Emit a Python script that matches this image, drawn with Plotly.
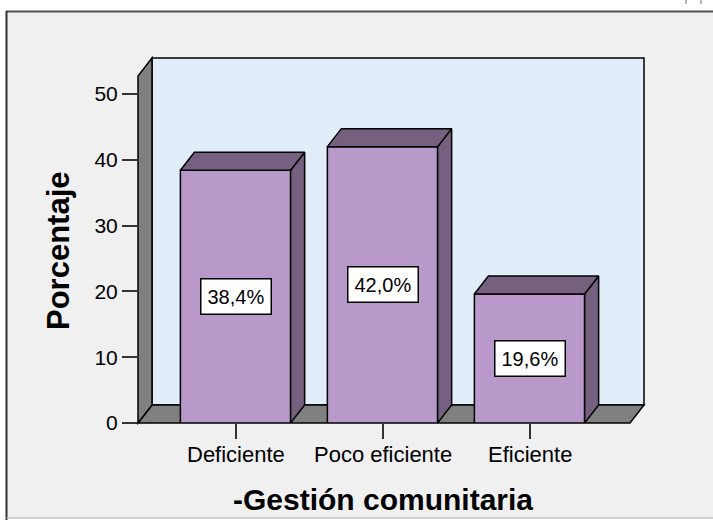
import plotly.graph_objects as go

# ---------------- data ----------------
categories = ["Deficiente", "Poco eficiente", "Eficiente"]
percentages = [38.4, 42.0, 19.6]
label_texts = ["38,4%", "42,0%", "19,6%"]
y_tick_values = [0, 10, 20, 30, 40, 50]
x_title = "-Gestión comunitaria"
y_title = "Porcentaje"

# ---------------- styling / geometry ----------------
W, Hpx = 713, 520
L, R, T, B = 138, 644, 58, 423          # plot area in pixels
PX_PER_CAT, CAT0_PX, PX_PER_UNIT = 147.0, 235.5, 6.58
DEPTH_X_PX, DEPTH_Y_PX = 14.0, 18.0
BAR_W = 0.75

FRONT = "#b899c9"
DARK = "#75607f"
WALL = "#808080"
PANEL = "#e1edf9"
BG = "#f0f0f0"
FONT = "Liberation Sans, Arial, sans-serif"

x_range = [(L - CAT0_PX) / PX_PER_CAT, (R - CAT0_PX) / PX_PER_CAT]
y_range = [0, (B - T) / PX_PER_UNIT]
DX = DEPTH_X_PX / PX_PER_CAT
DY = DEPTH_Y_PX / PX_PER_UNIT
WALL_H = y_range[1] - DY


def dx2p(x):
    return (x - x_range[0]) / (x_range[1] - x_range[0])


def dy2p(y):
    return (y - y_range[0]) / (y_range[1] - y_range[0])


def pxx(p):
    return (p - L) / (R - L)


def pxy(p):
    return (B - p) / (B - T)


def paper_path(pts):
    s = "M " + " L ".join(f"{dx2p(x):.5f},{dy2p(y):.5f}" for x, y in pts) + " Z"
    return s


x0, x1 = x_range
shapes = []
# outer frame
shapes.append(dict(type="rect", xref="paper", yref="paper", layer="below",
                   x0=pxx(6), x1=pxx(730), y0=pxy(518), y1=pxy(11),
                   fillcolor=BG, line=dict(width=0)))
shapes.append(dict(type="line", xref="paper", yref="paper", layer="below",
                   x0=pxx(6), x1=pxx(730), y0=pxy(11.5), y1=pxy(11.5),
                   line=dict(color="#505050", width=2)))
shapes.append(dict(type="line", xref="paper", yref="paper", layer="below",
                   x0=pxx(6.5), x1=pxx(6.5), y0=pxy(530), y1=pxy(11),
                   line=dict(color="#303030", width=2)))
shapes.append(dict(type="line", xref="paper", yref="paper", layer="below",
                   x0=pxx(6), x1=pxx(730), y0=pxy(518), y1=pxy(518),
                   line=dict(color="#b0b0b0", width=1)))
for px in (686, 701):
    shapes.append(dict(type="line", xref="paper", yref="paper", layer="below",
                       x0=pxx(px), x1=pxx(px), y0=pxy(0), y1=pxy(4),
                       line=dict(color="#a0a0a0", width=1.5)))

# back wall, floor, left wall
edge = dict(color="black", width=1.5)
shapes.append(dict(type="path", xref="paper", yref="paper", layer="below",
                   path=paper_path([(x0 + DX, DY), (x0 + DX, WALL_H + DY),
                                    (x1, WALL_H + DY), (x1, DY)]),
                   fillcolor=PANEL, line=edge))
shapes.append(dict(type="path", xref="paper", yref="paper", layer="below",
                   path=paper_path([(x0, 0), (x0 + DX, DY), (x1, DY), (x1 - DX, 0)]),
                   fillcolor=WALL, line=edge))
shapes.append(dict(type="path", xref="paper", yref="paper", layer="below",
                   path=paper_path([(x0, 0), (x0, WALL_H), (x0 + DX, WALL_H + DY),
                                    (x0 + DX, DY)]),
                   fillcolor=WALL, line=edge))

fig = go.Figure()
xs = list(range(len(categories)))
fig.add_trace(go.Bar(x=xs, y=percentages, width=BAR_W,
                     marker=dict(color=FRONT, line=dict(color="black", width=1.5)),
                     hoverinfo="skip", showlegend=False))

for i, v in zip(xs, percentages):
    a, b = i - BAR_W / 2, i + BAR_W / 2
    top = [(a, v), (a + DX, v + DY), (b + DX, v + DY), (b, v), (a, v)]
    side = [(b, 0), (b, v), (b + DX, v + DY), (b + DX, DY), (b, 0)]
    for poly in (side, top):
        fig.add_trace(go.Scatter(x=[p[0] for p in poly], y=[p[1] for p in poly],
                                 mode="lines", fill="toself", fillcolor=DARK,
                                 line=dict(color="black", width=1.5),
                                 hoverinfo="skip", showlegend=False))

annotations = []
for i, v, t in zip(xs, percentages, label_texts):
    annotations.append(dict(x=i, y=v / 2, xref="x", yref="y", text=t, showarrow=False,
                            font=dict(family=FONT, size=20, color="black"),
                            bgcolor="white", bordercolor="black", borderwidth=1.5,
                            borderpad=6))
# category labels (below the ticks)
for i, c in zip(xs, categories):
    annotations.append(dict(x=i, y=pxy(454), xref="x", yref="paper", text=c,
                            showarrow=False, xanchor="center", yanchor="middle",
                            font=dict(family=FONT, size=22, color="black")))
annotations.append(dict(x=pxx(383), y=pxy(500), xref="paper", yref="paper",
                        text=f"<b>{x_title}</b>", showarrow=False,
                        xanchor="center", yanchor="middle",
                        font=dict(family=FONT, size=30, color="black")))
annotations.append(dict(x=pxx(59), y=pxy(251), xref="paper", yref="paper",
                        text=f"<b>{y_title}</b>", showarrow=False, textangle=-90,
                        xanchor="center", yanchor="middle",
                        font=dict(family=FONT, size=31, color="black")))

fig.update_layout(
    width=W, height=Hpx, autosize=False,
    margin=dict(l=L, r=W - R, t=T, b=Hpx - B, pad=0),
    paper_bgcolor="white", plot_bgcolor="rgba(0,0,0,0)",
    shapes=shapes, annotations=annotations, showlegend=False,
    xaxis=dict(range=x_range, tickvals=xs, ticktext=["" for _ in xs], ticks="outside",
               ticklen=15, tickwidth=1.5, tickcolor="#333", showgrid=False,
               zeroline=False, showline=False),
    yaxis=dict(range=y_range, tickvals=y_tick_values, ticks="outside",
               ticklen=15, tickwidth=1.5, tickcolor="#333", showgrid=False,
               zeroline=False, showline=False,
               tickfont=dict(family=FONT, size=21, color="black")),
)

fig.write_html("out.html", config={"displayModeBar": False},
               post_script="document.body.style.margin='0';document.body.style.overflow='hidden';")
